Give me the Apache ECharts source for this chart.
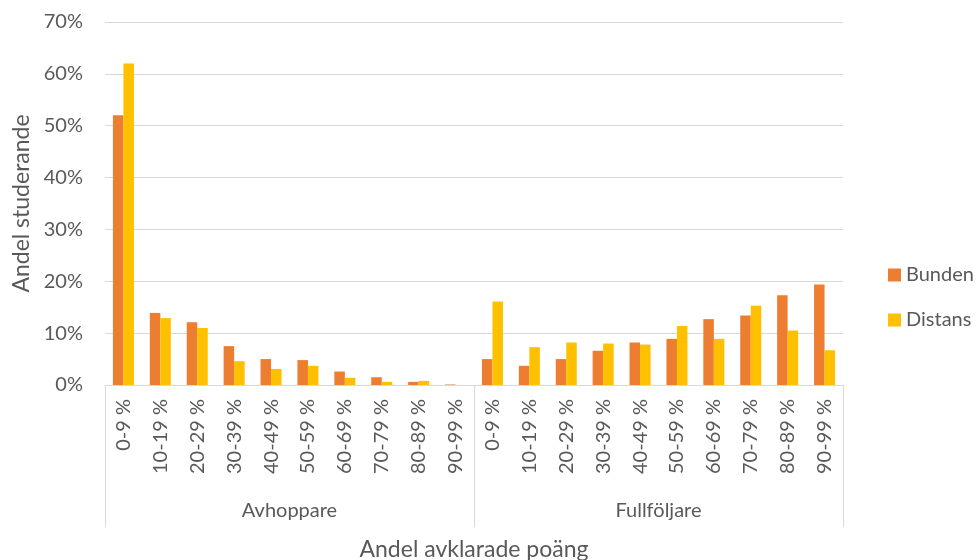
<!DOCTYPE html>
<html>
<head>
<meta charset="utf-8">
<script src="https://cdn.jsdelivr.net/npm/echarts@6/dist/echarts.min.js"></script>
<style>
  html, body { margin: 0; padding: 0; background: #fff; }
  #chart { width: 977px; height: 560px; }
</style>
</head>
<body>
<div id="chart"></div>
<script>
// intervall av avklarade poäng, samma för båda grupperna
var intervals = ['0-9 %', '10-19 %', '20-29 %', '30-39 %', '40-49 %', '50-59 %', '60-69 %', '70-79 %', '80-89 %', '90-99 %'];
var groups = ['Avhoppare', 'Fullföljare'];

// andel studerande (%)
var bundenAvhoppare = [52.0, 13.9, 12.1, 7.5, 5.0, 4.8, 2.6, 1.5, 0.6, 0.1];
var distansAvhoppare = [62.0, 12.9, 11.0, 4.6, 3.1, 3.7, 1.4, 0.6, 0.8, 0.0];
var bundenFullfoljare = [5.0, 3.7, 5.0, 6.6, 8.2, 8.9, 12.7, 13.4, 17.3, 19.4];
var distansFullfoljare = [16.1, 7.3, 8.2, 8.0, 7.8, 11.4, 8.9, 15.3, 10.5, 6.7];

var yTicks = [0, 10, 20, 30, 40, 50, 60, 70];

var fontName = 'Lato';
var textColor = '#595959';
var lineColor = '#d9d9d9';

var categories = intervals.concat(intervals);
var bunden = bundenAvhoppare.concat(bundenFullfoljare);
var distans = distansAvhoppare.concat(distansFullfoljare);

var dom = document.getElementById('chart');
var myChart = echarts.init(dom);

var option = {
    animation: false,
    textStyle: { fontFamily: fontName },
    grid: {
        left: 105,
        right: 134,
        top: 22,
        bottom: 175,
        outerBoundsMode: 'none',
        containLabel: false
    },
    legend: {
        orient: 'vertical',
        left: 883,
        top: 260,
        itemWidth: 13,
        itemHeight: 13,
        itemGap: 25,
        icon: 'rect',
        textStyle: { fontFamily: fontName, fontSize: 20, color: textColor },
        data: ['Bunden', 'Distans']
    },
    xAxis: [
        {
            type: 'category',
            data: categories,
            axisLine: { show: true, lineStyle: { color: lineColor, width: 1 } },
            axisTick: { show: false },
            axisLabel: {
                interval: 0,
                rotate: 90,
                margin: 14,
                fontFamily: fontName,
                fontSize: 20,
                color: textColor
            }
        },
        {
            type: 'category',
            data: groups,
            position: 'bottom',
            offset: 0,
            axisLine: { show: false },
            axisTick: { show: true, length: 142, lineStyle: { color: lineColor, width: 1 } },
            axisLabel: {
                interval: 0,
                margin: 116,
                fontFamily: fontName,
                fontSize: 20,
                color: textColor
            },
            name: 'Andel avklarade poäng',
            nameLocation: 'middle',
            nameGap: 153,
            nameTextStyle: { fontFamily: fontName, fontSize: 23, color: textColor }
        }
    ],
    yAxis: {
        type: 'value',
        min: yTicks[0],
        max: yTicks[yTicks.length - 1],
        interval: 10,
        name: 'Andel studerande',
        nameLocation: 'middle',
        nameGap: 68,
        nameTextStyle: { fontFamily: fontName, fontSize: 23, color: textColor },
        axisLine: { show: false },
        axisTick: { show: false },
        axisLabel: {
            formatter: '{value}%',
            margin: 22,
            fontFamily: fontName,
            fontSize: 20,
            color: textColor
        },
        splitLine: { show: true, lineStyle: { color: lineColor, width: 1 } }
    },
    series: [
        {
            name: 'Bunden',
            type: 'bar',
            xAxisIndex: 0,
            data: bunden,
            barGap: '0%',
            barCategoryGap: '43%',
            itemStyle: { color: '#ED7D31' }
        },
        {
            name: 'Distans',
            type: 'bar',
            xAxisIndex: 0,
            data: distans,
            itemStyle: { color: '#FFC000' }
        }
    ]
};

myChart.setOption(option);
</script>
</body>
</html>
